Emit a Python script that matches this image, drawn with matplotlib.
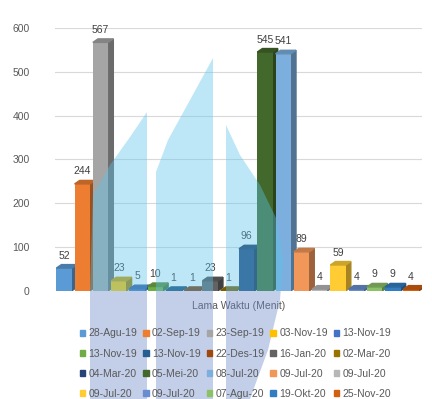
import matplotlib.pyplot as plt
from matplotlib.patches import Polygon, Patch, Rectangle
import matplotlib.colors as mcolors

plt.rcParams['font.family'] = ['Liberation Sans', 'DejaVu Sans']

dates = ['28-Agu-19', '02-Sep-19', '23-Sep-19', '03-Nov-19', '13-Nov-19',
         '13-Nov-19', '13-Nov-19', '22-Des-19', '16-Jan-20', '02-Mar-20',
         '04-Mar-20', '05-Mei-20', '08-Jul-20', '09-Jul-20', '09-Jul-20',
         '09-Jul-20', '09-Jul-20', '07-Agu-20', '19-Okt-20', '25-Nov-20']
minutes = [52, 244, 567, 23, 5, 10, 1, 1, 23, 1,
           96, 545, 541, 89, 4, 59, 4, 9, 9, 4]
colors = ['#5B9BD5', '#ED7D31', '#A5A5A5', '#FFC000', '#4472C4',
          '#70AD47', '#255E91', '#9E480E', '#636363', '#997300',
          '#264478', '#43682B', '#7CAFDD', '#F1975A', '#B7B7B7',
          '#FFCD33', '#698ED0', '#8CC168', '#327DC2', '#D26012']
yticks = [0, 100, 200, 300, 400, 500, 600]

# watermark logo outline (pixel coords, y down) - background decoration only
logo_left = [(147, 112), (147, 399), (90, 399), (90, 290), (93, 195),
             (110, 165), (130, 137)]
logo_mid = [(213, 58), (213, 399), (156, 399), (156, 172), (168, 140),
            (190, 100)]
logo_right = [(226, 125), (226, 399), (250, 399), (268, 350), (280, 300),
              (283, 260), (276, 218), (260, 185), (240, 155)]


def shade(c, f):
    r, g, b = mcolors.to_rgb(c)
    return (r * f, g * f, b * f)


W, H = 432, 399
fig = plt.figure(figsize=(W / 100, H / 100), dpi=100)
ax = fig.add_axes([0.127, 0.271, 0.85, 0.659])

w = 0.84
dx, dy = 0.28, 8  # fake 3D depth in data units
for i, (v, c) in enumerate(zip(minutes, colors)):
    ax.bar(i, v, width=w, color=c, zorder=3)
    x0, x1 = i - w / 2, i + w / 2
    top = Polygon([(x0, v), (x1, v), (x1 + dx, v + dy), (x0 + dx, v + dy)],
                  closed=True, color=shade(c, 0.8), zorder=3)
    side = Polygon([(x1, 0), (x1, v), (x1 + dx, v + dy), (x1 + dx, dy)],
                   closed=True, color=shade(c, 0.65), zorder=2)
    ax.add_patch(top)
    ax.add_patch(side)
    ax.text(i, v + dy + 9, str(v), ha='center', va='bottom',
            fontsize=7.5, color='#404040', zorder=4)

ax.set_xlim(-0.5, 19.6)
ax.set_ylim(0, 600)
ax.set_yticks(yticks)
ax.tick_params(axis='y', length=0, labelsize=7.5, labelcolor='#595959', pad=18)
ax.set_xticks([])
ax.grid(axis='y', color='#D9D9D9', linewidth=0.8, zorder=0)
for s in ax.spines.values():
    s.set_visible(False)
ax.set_xlabel('Lama Waktu (Menit)', fontsize=7.5, color='#595959', labelpad=7)

# legend laid out row by row, 5 per row
handles = [Patch(color=c) for c in colors]
order = [(k % 4) * 5 + k // 4 for k in range(20)]
fig.legend([handles[k] for k in order], [dates[k] for k in order],
           ncol=5, loc='upper center', bbox_to_anchor=(0.545, 0.195),
           frameon=False, fontsize=7.5, labelcolor='#595959',
           handlelength=0.55, handleheight=0.55, handletextpad=0.3,
           columnspacing=0.55, labelspacing=0.97, borderpad=0.2)

# watermark overlay: cyan above the floor, periwinkle below
split = 1 - 291 / H
upper = Rectangle((0, split), 1, 1 - split, transform=fig.transFigure)
lower = Rectangle((0, 0), 1, split, transform=fig.transFigure)
for pts in (logo_left, logo_mid, logo_right):
    xy = [(x / W, 1 - y / H) for x, y in pts]
    for col, clip in (('#5CC5ED', upper), ('#6B89C8', lower)):
        p = Polygon(xy, closed=True, transform=fig.transFigure,
                    facecolor=col, edgecolor='none', alpha=0.4, zorder=2)
        p.set_clip_path(clip)
        fig.patches.append(p)

fig.savefig('out.png', dpi=100)
